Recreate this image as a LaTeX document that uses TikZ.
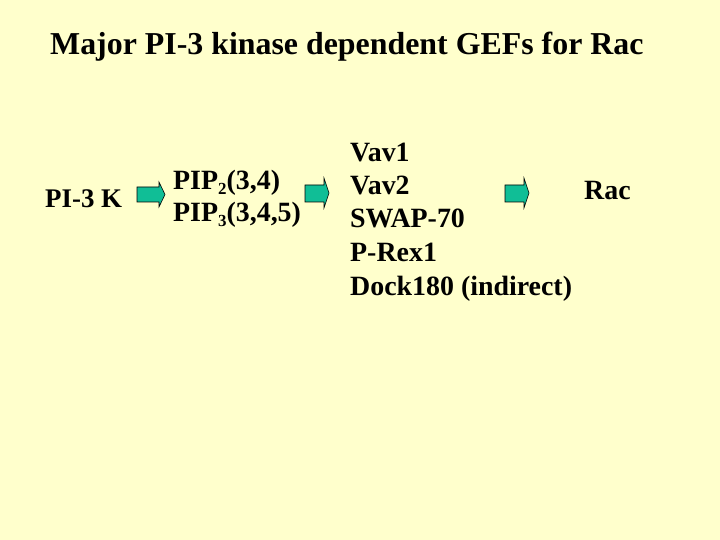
\documentclass[tikz,border=0pt]{standalone}
\usepackage{fontspec}
\setmainfont{Liberation Serif}
\definecolor{bg}{RGB}{255,255,204}
\definecolor{arrowfill}{RGB}{16,190,150}
\newcommand{\lowsub}[1]{\raisebox{-5bp}{\fontsize{17}{17}\selectfont #1}}
\begin{document}
\begin{tikzpicture}[x=1bp,y=-1bp,
  lbl/.style={anchor=base west,inner sep=0pt,font=\fontsize{28}{33}\selectfont\bfseries},
  ttl/.style={anchor=base west,inner sep=0pt,font=\fontsize{32}{38}\selectfont\bfseries},
  blockarrow/.style={fill=arrowfill,draw=black,line width=0.6bp,line join=miter}]
\fill[bg] (0,0) rectangle (720,540);
\useasboundingbox (0,0) rectangle (720,540);
\node[ttl] (title) at (50,55) {Major PI-3 kinase dependent GEFs for Rac};
\node[lbl,font=\fontsize{27}{33}\selectfont\bfseries] (pi3k) at (45,208) {PI-3 K};
\node[lbl] (pip2) at (173,190) {PIP\lowsub{2}(3,4)};
\node[lbl] (pip3) at (173,222) {PIP\lowsub{3}(3,4,5)};
\node[lbl] (vav1) at (350,162) {Vav1};
\node[lbl] (vav2) at (350,195) {Vav2};
\node[lbl] (swap) at (350,228) {SWAP-70};
\node[lbl] (prex) at (350,262) {P-Rex1};
\node[lbl] (dock) at (350,295) {Dock180 (indirect)};
\node[lbl] (rac) at (584,200) {Rac};
% block arrows
\draw[blockarrow] (137,187) -- (159,187) -- (159,182) -- (165,194.5) -- (159,207) -- (159,202) -- (137,202) -- cycle;
\draw[blockarrow] (305,185) -- (324,185) -- (324,178) -- (329,193) -- (324,208) -- (324,202) -- (305,202) -- cycle;
\draw[blockarrow] (505,185) -- (524,185) -- (524,178) -- (529,193) -- (524,208) -- (524,202) -- (505,202) -- cycle;
\end{tikzpicture}
\end{document}
